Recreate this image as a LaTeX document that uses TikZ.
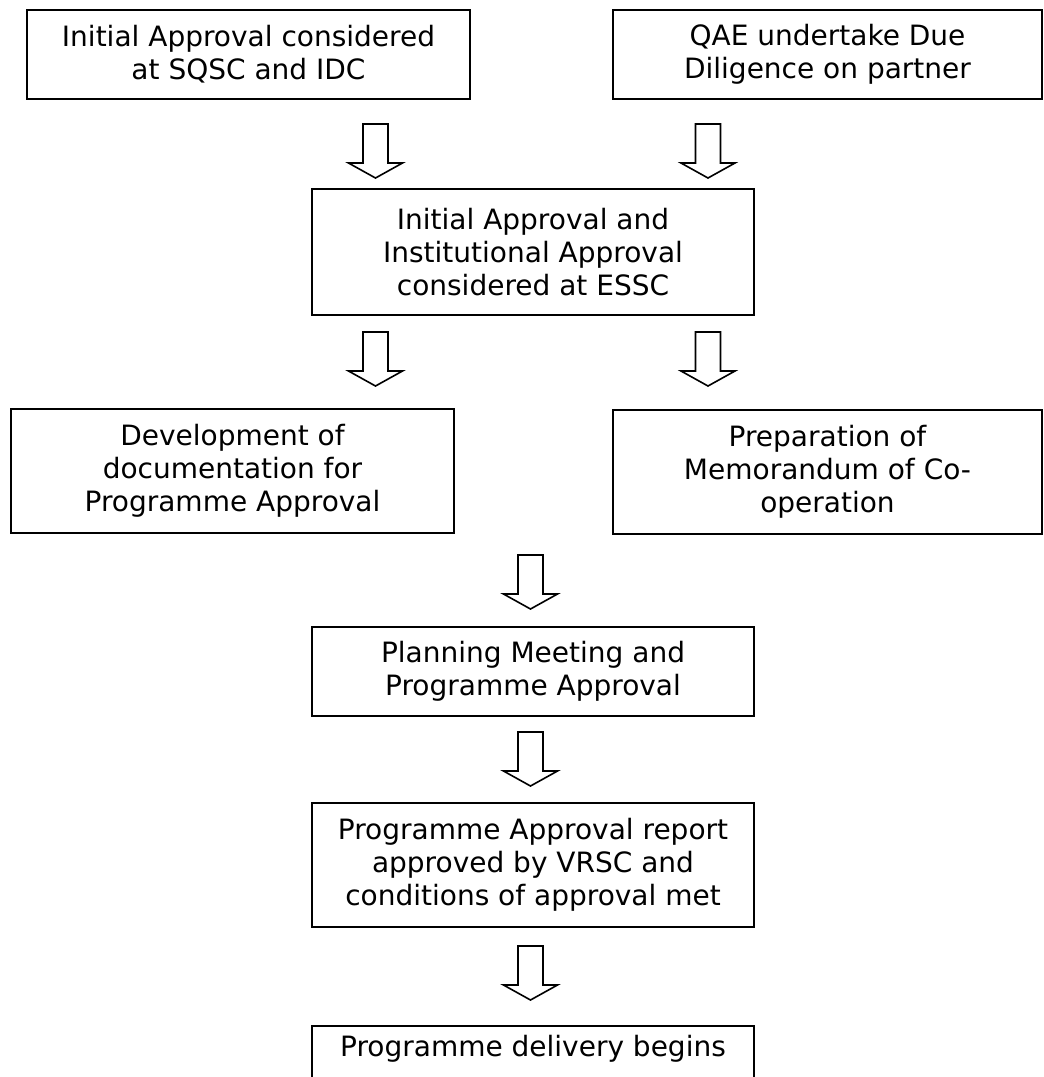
\documentclass[tikz,border=0pt]{standalone}
\usepackage{fontspec}
\setmainfont{DejaVu Sans}
\begin{document}
\begin{tikzpicture}[x=1pt,y=-1pt,
  box/.style={draw, line width=1.6pt, align=center, inner sep=0pt,
    font=\fontsize{28}{33}\selectfont},
  barrow/.pic={\draw[line width=1.6pt, line join=miter]
    (-12.5,0) -- (12.5,0) -- (12.5,39) -- (27,39) -- (0,54) -- (-27,39) -- (-12.5,39) -- cycle;}
]
\clip (0,0) rectangle (1044,1077);
\fill[white] (0,0) rectangle (1044,1077);

\node[box, minimum width=443pt, minimum height=89pt] (b1) at (248.5,54.5)
  {Initial Approval considered\\at SQSC and IDC};
\node[box, minimum width=429pt, minimum height=89pt] (b2) at (827.5,54.5)
  {QAE undertake Due\\Diligence on partner};
\node[box, minimum width=442pt, minimum height=126pt] (b3) at (533,252)
  {Initial Approval and\\Institutional Approval\\considered at ESSC};
\node[box, minimum width=443pt, minimum height=124pt] (b4) at (232.5,471)
  {Development of\\documentation for\\Programme Approval};
\node[box, minimum width=429pt, minimum height=124pt] (b5) at (827.5,472)
  {Preparation of\\Memorandum of Co-\\operation};
\node[box, minimum width=442pt, minimum height=89pt] (b6) at (533,671.5)
  {Planning Meeting and\\Programme Approval};
\node[box, minimum width=442pt, minimum height=124pt] (b7) at (533,865)
  {Programme Approval report\\approved by VRSC and\\conditions of approval met};
\node[box, minimum width=442pt, anchor=north, inner ysep=5pt,
  text height=26pt, text depth=60pt] (b8) at (533,1025)
  {Programme delivery begins};

\pic at (375.5,124) {barrow};
\pic at (708,124) {barrow};
\pic at (375.5,332) {barrow};
\pic at (708,332) {barrow};
\pic at (530.5,555) {barrow};
\pic at (530.5,732) {barrow};
\pic at (530.5,946) {barrow};
\end{tikzpicture}
\end{document}
